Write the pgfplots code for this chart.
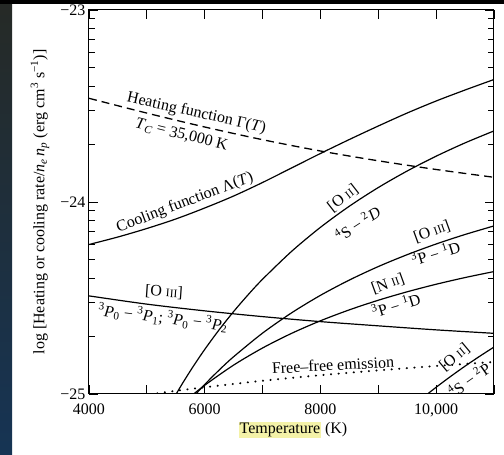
\documentclass[border=0pt]{standalone}
\usepackage{fontspec}
\setmainfont{Liberation Serif}
\usepackage{pgfplots}
\pgfplotsset{compat=1.18}
\definecolor{hl}{RGB}{244,242,168}
\definecolor{bandtop}{RGB}{38,42,38}
\definecolor{bandbot}{RGB}{22,52,84}
\newcommand\fs{\fontsize{16}{19}\selectfont}
\newcommand\rn[1]{{\fontsize{11.5}{12}\selectfont #1}}
\setlength{\fboxsep}{0.8pt}
\begin{document}
\begin{tikzpicture}[font=\fs]
\useasboundingbox (0,0) rectangle (504pt,455pt);
\shade[top color=bandtop, bottom color=bandbot] (0,0) rectangle (12pt,455pt);
\fill[black] (0,450.5pt) rectangle (504pt,455pt);
\begin{axis}[
  at={(89pt,61pt)}, anchor=south west, scale only axis,
  width=405pt, height=384pt,
  xmin=4000, xmax=11000, ymin=-25, ymax=-23,
  scaled x ticks=false, scaled y ticks=false,
  xtick={4000,5000,...,11000},
  xticklabels={4000,,6000,,8000,,{10,000},},
  ytick={-25,-24,-23},
  yticklabels={−25,−24,−23},
  minor ytick={-24.699,-24.523,-24.398,-24.301,-24.222,-24.155,-24.097,-24.046,-23.699,-23.523,-23.398,-23.301,-23.222,-23.155,-23.097,-23.046},
  tick align=inside,
  major tick length=9pt, minor tick length=6pt,
  every tick/.style={black, line width=0.8pt},
  axis line style={line width=1pt},
  tick label style={font=\fs},
  xticklabel style={yshift=-6pt},
  label style={font=\fs},
  xlabel={\colorbox{hl}{Temperature} (K)},
  ylabel={log [Heating or cooling rate/\textit{n}\textsubscript{\textit{e}}\,\textit{n}\textsubscript{\textit{p}} (erg cm\textsuperscript{3} s\textsuperscript{−1})]},
  xlabel style={at={(axis description cs:0.504,-0.094)}, anchor=center},
  ylabel style={at={(axis description cs:-0.121,0.5)}, anchor=center},
  clip=true,
]
% Heating function
\addplot[black, line width=1.3pt, dash pattern=on 8pt off 5pt, smooth] coordinates {
(4000,-23.4599) (5000,-23.5370) (6000,-23.6094) (7000,-23.6755) (8000,-23.7344) (9000,-23.7854) (10000,-23.8307) (11000,-23.8714)};
% Cooling function
\addplot[black, line width=1.2pt, smooth] coordinates {
(4000,-24.2214) (4500,-24.1823) (5000,-24.1380) (5500,-24.0885) (6000,-24.0313) (6500,-23.9688) (7000,-23.8984) (7500,-23.8229) (8000,-23.7474) (8500,-23.6745) (9000,-23.6042) (9500,-23.5365) (10000,-23.4740) (10500,-23.4167) (11000,-23.3620)};
% [O II] 4S-2D
\addplot[black, line width=1.2pt, smooth] coordinates {
(5400,-25.0556) (5600,-24.9526) (5800,-24.8570) (6000,-24.7680) (6250,-24.6652) (6500,-24.5705) (6750,-24.4832) (7000,-24.4023) (7500,-24.2576) (8000,-24.1320) (8500,-24.0219) (9000,-23.9247) (9500,-23.8385) (10000,-23.7614) (10500,-23.6921) (11000,-23.6297)};
% [O III] 3P-1D
\addplot[black, line width=1.2pt, smooth] coordinates {
(5800,-25.0156) (6000,-24.9504) (6250,-24.8751) (6500,-24.8058) (7000,-24.6829) (7500,-24.5776) (8000,-24.4862) (8500,-24.4065) (9000,-24.3363) (9500,-24.2742) (10000,-24.2188) (10500,-24.1692) (11000,-24.1246)};
% [N II] 3P-1D
\addplot[black, line width=1.2pt, smooth] coordinates {
(5700,-25.0271) (6000,-24.9545) (6500,-24.8494) (7000,-24.7604) (7500,-24.6844) (8000,-24.6188) (8500,-24.5617) (9000,-24.5117) (9500,-24.4676) (10000,-24.4284) (10500,-24.3935) (11000,-24.3623)};
% [O III] fine structure
\addplot[black, line width=1.2pt, smooth] coordinates {
(4000,-24.489) (5000,-24.532) (6000,-24.567) (7000,-24.597) (8000,-24.623) (9000,-24.645) (10000,-24.666) (11000,-24.684)};
% [O II] 4S-2P
\addplot[black, line width=1.2pt, smooth] coordinates {
(9700,-25.0366) (9800,-25.0122) (10000,-24.9649) (10250,-24.9086) (10500,-24.8549) (10750,-24.8040) (11000,-24.7555)};
% Free-free
\addplot[black, line width=2.2pt, line cap=round, dash pattern=on 0.1pt off 7.5pt, smooth] coordinates {
(5050,-25.0021) (5500,-24.9835) (6000,-24.965) (7000,-24.931) (8000,-24.902) (9000,-24.877) (10000,-24.854) (11000,-24.833)};

\node[rotate=-12.5, font=\fs] at (axis cs:5858,-23.539) {Heating function Γ(\textit{T})};
\node[rotate=-14, font=\fs] at (axis cs:5599,-23.652) {\textit{T}\textsubscript{\textit{C}} = 35,000 K};
\node[rotate=21, font=\fs] at (axis cs:5659,-24.005) {Cooling function Λ(\textit{T})};
\node[rotate=38, font=\fs] at (axis cs:8390,-23.980) {[O \rn{II}]};
\node[rotate=33, font=\fs] at (axis cs:8640,-24.112) {\textsuperscript{4}S − \textsuperscript{2}\textit{D}};
\node[rotate=20, font=\fs] at (axis cs:9928,-24.155) {[O \rn{III}]};
\node[rotate=17, font=\fs] at (axis cs:9990,-24.265) {\textsuperscript{3}P − \textsuperscript{1}D};
\node[rotate=20, font=\fs] at (axis cs:9168,-24.427) {[N \rn{II}]};
\node[rotate=17, font=\fs] at (axis cs:9306,-24.536) {\textsuperscript{3}P − \textsuperscript{1}D};
\node[rotate=-4, font=\fs] at (axis cs:5296,-24.470) {[O \rn{III}]};
\node[rotate=-7, font=\fs] at (axis cs:5279,-24.603) {\textsuperscript{3}\textit{P}\textsubscript{0} − \textsuperscript{3}\textit{P}\textsubscript{1}; \textsuperscript{3}\textit{P}\textsubscript{0} − \textsuperscript{3}\textit{P}\textsubscript{2}};
\node[rotate=3, font=\fs] at (axis cs:8217,-24.849) {Free–free emission};
\node[rotate=40, font=\fs] at (axis cs:10320,-24.808) {[O \rn{II}]};
\node[rotate=35, font=\fs] at (axis cs:10570,-24.925) {\textsuperscript{4}S − \textsuperscript{2}P};
\end{axis}
\end{tikzpicture}
\end{document}
